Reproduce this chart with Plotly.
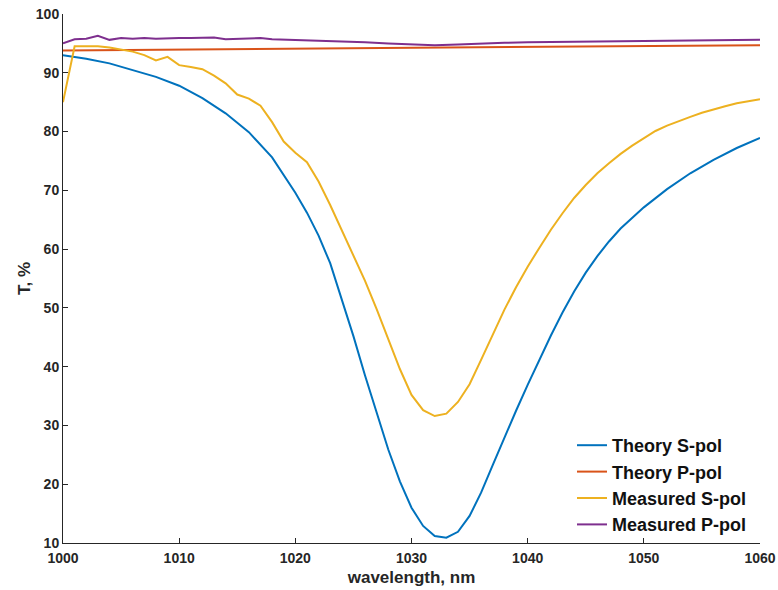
import plotly.graph_objects as go

# Theory S-pol
ts_x = [1000, 1002, 1004, 1006, 1008, 1010, 1012, 1014, 1016, 1018, 1020, 1021, 1022, 1023, 1024,
        1025, 1026, 1027, 1028, 1029, 1030, 1031, 1032, 1033, 1034, 1035, 1036, 1037, 1038, 1039,
        1040, 1041, 1042, 1043, 1044, 1045, 1046, 1047, 1048, 1050, 1052, 1054, 1056, 1058, 1060]
ts_y = [93.0, 92.4, 91.6, 90.5, 89.3, 87.8, 85.7, 83.1, 79.9, 75.6, 69.6, 66.2, 62.3, 57.6, 51.6,
        45.2, 38.5, 32.0, 25.9, 20.5, 16.0, 12.9, 11.2, 10.9, 11.9, 14.6, 18.6, 23.3, 28.0, 32.5,
        36.9, 41.2, 45.3, 49.2, 52.8, 56.0, 58.8, 61.3, 63.5, 67.1, 70.2, 72.9, 75.2, 77.2, 78.9]

# Theory P-pol
tp_x = [1000, 1020, 1040, 1060]
tp_y = [93.8, 94.1, 94.4, 94.7]

# Measured S-pol
ms_x = list(range(1000, 1061))
ms_y = [85.0, 94.5, 94.5, 94.5, 94.3, 94.0, 93.6, 93.0, 92.1, 92.7, 91.3, 91.0, 90.6, 89.5, 88.2,
        86.3, 85.6, 84.4, 81.6, 78.3, 76.4, 74.8, 71.5, 67.5, 63.2, 58.9, 54.6, 49.8, 44.8, 39.6,
        35.2, 32.6, 31.6, 32.0, 34.0, 37.0, 41.2, 45.4, 49.7, 53.5, 57.0, 60.2, 63.3, 66.1, 68.7,
        70.9, 72.9, 74.6, 76.2, 77.6, 78.9, 80.1, 81.0, 81.8, 82.5, 83.2, 83.8, 84.3, 84.8, 85.2, 85.5]

# Measured P-pol
mp_x = [1000, 1001, 1002, 1003, 1004, 1005, 1006, 1007, 1008, 1009, 1010, 1011, 1012, 1013, 1014,
        1015, 1016, 1017, 1018, 1020, 1022, 1024, 1026, 1028, 1030, 1032, 1034, 1036, 1038, 1040,
        1044, 1048, 1052, 1056, 1060]
mp_y = [95.0, 95.7, 95.8, 96.3, 95.6, 95.9, 95.8, 95.9, 95.8, 95.9, 95.9, 95.9, 95.9, 96.0, 95.7,
        95.8, 95.8, 95.9, 95.7, 95.6, 95.5, 95.3, 95.2, 95.0, 94.8, 94.7, 94.8, 95.0, 95.1, 95.2,
        95.3, 95.4, 95.5, 95.5, 95.6]

x_ticks = [1000, 1010, 1020, 1030, 1040, 1050, 1060]
y_ticks = [10, 20, 30, 40, 50, 60, 70, 80, 90, 100]

names = ["Theory S-pol", "Theory P-pol", "Measured S-pol", "Measured P-pol"]
colors = ["#0072BD", "#D95319", "#EDB120", "#7E2F8E"]

fig = go.Figure()
for xs, ys, n, c in zip([ts_x, tp_x, ms_x, mp_x], [ts_y, tp_y, ms_y, mp_y], names, colors):
    fig.add_trace(go.Scatter(x=xs, y=ys, mode="lines", name=n,
                             line=dict(color=c, width=2)))

FONT = "Liberation Sans, Arial"
axis_common = dict(showline=True, linecolor="#262626", linewidth=1, ticks="inside",
                   ticklen=5, tickcolor="#262626", showgrid=False, zeroline=False,
                   automargin=False, ticklabeloverflow="allow",
                   tickfont=dict(family=FONT, size=14, color="#262626", weight="bold"),
                   mirror=False)

fig.update_layout(
    width=778, height=590,
    margin=dict(l=63, r=18, t=14, b=47),
    paper_bgcolor="white", plot_bgcolor="white",
    font=dict(family=FONT, color="#262626"),
    xaxis=dict(range=[1000, 1060], tickvals=x_ticks, ticklabelstandoff=2,
               title=dict(text="wavelength, nm", standoff=6,
                          font=dict(size=17, weight="bold", color="#262626")),
               **axis_common),
    yaxis=dict(range=[10, 100], tickvals=y_ticks,
               title=dict(text="T, %", standoff=0,
                          font=dict(size=17, weight="bold", color="#262626")),
               **axis_common),
    legend=dict(x=0.9885, xanchor="right", y=0.0, yanchor="bottom",
                bgcolor="rgba(255,255,255,0)", borderwidth=0,
                font=dict(family=FONT, size=18, weight="bold", color="#111111"),
                itemwidth=30, tracegroupgap=0),
    showlegend=True,
)

fig.write_html("out.html", config={"displayModeBar": False},
               post_script="document.body.style.margin='0';document.body.style.overflow='hidden';")
